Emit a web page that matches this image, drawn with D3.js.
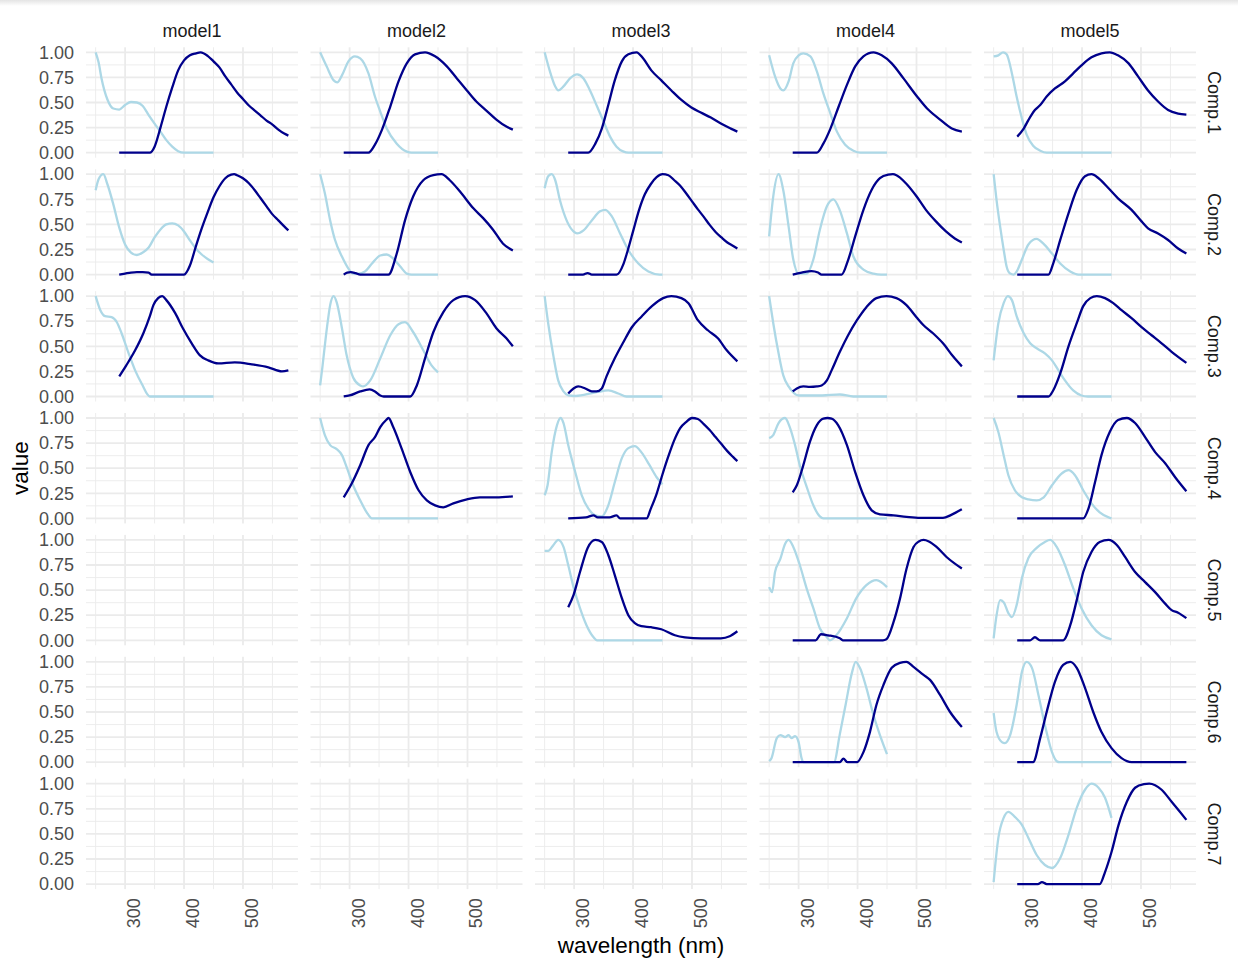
<!DOCTYPE html>
<html>
<head>
<meta charset="utf-8">
<script src="https://cdn.jsdelivr.net/npm/d3@7"></script>
<style>
  body { margin: 0; background: #ffffff; }
  text { font-family: "Liberation Sans", Arial, sans-serif; }
</style>
</head>
<body>
<svg id="chart" width="1238" height="961"></svg>
<script>
// ---- facet categories and tick labels ----
const models = ["model1", "model2", "model3", "model4", "model5"];
const comps = ["Comp.1", "Comp.2", "Comp.3", "Comp.4", "Comp.5", "Comp.6", "Comp.7"];
const xTicksMajor = [300, 400, 500];
const xTicksMinor = [250, 350, 450, 550];
const yTicksMajor = [0, 0.25, 0.5, 0.75, 1];
const yTicksMinor = [0.125, 0.375, 0.625, 0.875];
const wavelengthRange = [250, 577];

// ---- spectra: [wavelength (nm), scaled loading] ----
// model1
const m1c1Ex = [[250,1.0],[255,0.9],[260,0.74],[270,0.53],[280,0.44],[290,0.43],[300,0.475],[310,0.505],[320,0.50],[330,0.465],[340,0.375],[350,0.29],[360,0.21],[370,0.125],[380,0.06],[390,0.015],[400,0],[450,0]];
const m1c1Em = [[290,0],[342,0],[350,0.06],[360,0.25],[370,0.46],[380,0.65],[390,0.82],[400,0.92],[410,0.97],[420,0.99],[428,1.0],[440,0.965],[450,0.91],[460,0.85],[470,0.76],[480,0.68],[490,0.60],[500,0.535],[510,0.47],[520,0.42],[530,0.37],[540,0.32],[550,0.28],[560,0.23],[570,0.19],[577,0.17]];
const m1c2Ex = [[250,0.84],[255,0.95],[263,1.0],[270,0.90],[280,0.70],[290,0.47],[300,0.30],[310,0.22],[320,0.195],[330,0.22],[340,0.27],[350,0.37],[360,0.45],[370,0.50],[380,0.51],[390,0.49],[400,0.43],[410,0.34],[420,0.26],[430,0.20],[440,0.155],[450,0.12]];
const m1c2Em = [[290,0],[300,0.01],[310,0.02],[320,0.025],[330,0.025],[340,0.02],[345,0],[400,0],[410,0.09],[420,0.28],[430,0.46],[440,0.62],[450,0.77],[460,0.88],[470,0.96],[480,0.995],[485,1.0],[490,0.99],[500,0.96],[510,0.91],[520,0.84],[530,0.76],[540,0.68],[550,0.60],[560,0.54],[570,0.48],[577,0.44]];
const m1c3Ex = [[250,1.0],[258,0.86],[266,0.80],[277,0.79],[286,0.74],[294,0.63],[306,0.43],[317,0.26],[328,0.13],[342,0],[450,0]];
const m1c3Em = [[290,0.20],[302,0.31],[317,0.46],[331,0.63],[342,0.80],[348,0.91],[356,0.98],[363,1.0],[370,0.96],[385,0.83],[398,0.68],[413,0.53],[427,0.41],[441,0.36],[458,0.33],[486,0.34],[515,0.32],[543,0.29],[566,0.25],[577,0.26]];
// model2
const m2c1Ex = [[250,1.0],[261,0.86],[273,0.72],[279,0.70],[287,0.77],[298,0.91],[309,0.96],[318,0.94],[332,0.79],[343,0.56],[352,0.41],[363,0.24],[380,0.09],[397,0.01],[405,0],[450,0]];
const m2c1Em = [[290,0],[332,0],[343,0.08],[355,0.23],[369,0.46],[383,0.71],[397,0.89],[411,0.98],[428,1.0],[445,0.96],[465,0.86],[482,0.74],[499,0.62],[515,0.51],[532,0.42],[549,0.33],[566,0.26],[577,0.23]];
const m2c2Ex = [[250,1.0],[258,0.81],[267,0.54],[275,0.35],[287,0.18],[298,0.06],[306,0.01],[315,0.01],[326,0.03],[338,0.11],[352,0.19],[363,0.20],[374,0.16],[386,0.08],[397,0.01],[405,0],[450,0]];
const m2c2Em = [[290,0],[296,0.02],[302,0.025],[310,0.015],[318,0],[366,0],[380,0.21],[394,0.54],[408,0.78],[425,0.94],[442,0.99],[456,1.0],[470,0.94],[487,0.83],[510,0.66],[527,0.56],[543,0.45],[560,0.31],[577,0.24]];
const m2c3Ex = [[250,0.11],[254,0.30],[258,0.51],[263,0.75],[267,0.91],[273,1.0],[278,0.94],[287,0.68],[295,0.41],[306,0.19],[318,0.11],[323,0.10],[335,0.16],[352,0.38],[369,0.61],[383,0.72],[394,0.74],[408,0.64],[425,0.46],[439,0.31],[450,0.24]];
const m2c3Em = [[290,0],[300,0.01],[318,0.05],[334,0.07],[343,0.05],[352,0.01],[358,0],[403,0],[414,0.11],[428,0.38],[442,0.64],[459,0.84],[476,0.96],[496,1.0],[513,0.96],[532,0.83],[549,0.68],[566,0.58],[577,0.50]];
const m2c4Ex = [[250,1.0],[258,0.83],[267,0.73],[278,0.69],[287,0.63],[295,0.51],[306,0.33],[318,0.18],[329,0.06],[338,0],[450,0]];
const m2c4Em = [[290,0.21],[302,0.33],[318,0.53],[332,0.73],[343,0.81],[352,0.91],[362,0.98],[366,1.0],[374,0.91],[388,0.70],[403,0.46],[417,0.28],[431,0.18],[445,0.13],[459,0.11],[476,0.15],[499,0.19],[521,0.21],[549,0.21],[577,0.22]];
// model3
const m3c1Ex = [[250,1.0],[260,0.79],[268,0.66],[273,0.62],[282,0.66],[293,0.74],[305,0.78],[316,0.74],[327,0.62],[339,0.46],[350,0.31],[361,0.16],[372,0.06],[384,0.01],[392,0],[450,0]];
const m3c1Em = [[290,0],[324,0],[336,0.09],[347,0.24],[358,0.475],[369,0.72],[381,0.91],[392,0.98],[406,1.0],[417,0.94],[431,0.82],[448,0.72],[465,0.62],[482,0.525],[499,0.45],[515,0.40],[532,0.35],[549,0.29],[566,0.24],[577,0.21]];
const m3c2Ex = [[250,0.86],[256,0.98],[262,1.0],[268,0.94],[276,0.74],[288,0.53],[299,0.43],[305,0.41],[316,0.44],[330,0.54],[344,0.63],[353,0.645],[364,0.58],[378,0.41],[392,0.245],[409,0.11],[426,0.03],[445,0],[450,0]];
const m3c2Em = [[290,0],[315,0],[323,0.015],[330,0],[372,0],[384,0.11],[390,0.22],[400,0.43],[410,0.64],[420,0.80],[430,0.90],[440,0.97],[450,1.0],[460,0.99],[470,0.94],[480,0.885],[490,0.81],[500,0.73],[510,0.65],[520,0.575],[530,0.495],[540,0.425],[550,0.37],[560,0.32],[570,0.285],[577,0.26]];
const m3c3Ex = [[250,1.0],[256,0.73],[265,0.40],[273,0.16],[282,0.05],[290,0.01],[300,0.005],[320,0.02],[340,0.045],[358,0.06],[375,0.03],[389,0],[450,0]];
const m3c3Em = [[290,0.03],[299,0.08],[307,0.10],[319,0.08],[330,0.05],[338,0.05],[347,0.08],[355,0.20],[369,0.38],[384,0.545],[398,0.69],[415,0.80],[432,0.90],[451,0.98],[465,1.0],[482,0.98],[494,0.93],[510,0.76],[527,0.66],[544,0.58],[559,0.46],[577,0.35]];
const m3c4Ex = [[250,0.23],[255,0.33],[262,0.66],[271,0.93],[277,1.0],[282,0.95],[290,0.73],[302,0.46],[313,0.23],[324,0.10],[336,0.03],[347,0.02],[358,0.13],[369,0.36],[381,0.60],[392,0.70],[403,0.72],[414,0.66],[428,0.53],[440,0.41],[450,0.34]];
const m3c4Em = [[290,0],[320,0.01],[333,0.03],[340,0.01],[360,0.01],[372,0.03],[378,0],[423,0],[430,0.095],[440,0.245],[450,0.44],[460,0.62],[470,0.78],[480,0.90],[490,0.96],[500,1.0],[510,0.99],[520,0.94],[530,0.88],[540,0.81],[550,0.74],[560,0.67],[570,0.61],[577,0.57]];
const m3c5Ex = [[250,0.89],[256,0.89],[265,0.95],[273,1.0],[282,0.93],[290,0.75],[299,0.53],[310,0.32],[321,0.15],[333,0.03],[339,0],[450,0]];
const m3c5Em = [[290,0.33],[299,0.45],[310,0.68],[323,0.92],[336,1.0],[347,0.98],[358,0.85],[369,0.65],[381,0.42],[392,0.25],[403,0.17],[414,0.14],[431,0.13],[448,0.11],[471,0.05],[488,0.03],[516,0.02],[549,0.02],[564,0.04],[577,0.09]];
// model4
const m4c1Ex = [[250,0.97],[260,0.76],[269,0.64],[274,0.62],[283,0.71],[291,0.89],[300,0.97],[308,0.99],[320,0.96],[331,0.81],[342,0.59],[354,0.39],[365,0.21],[379,0.08],[393,0.02],[405,0],[450,0]];
const m4c1Em = [[290,0],[331,0],[342,0.09],[354,0.24],[368,0.46],[382,0.675],[396,0.86],[410,0.96],[427,1.0],[441,0.97],[458,0.89],[478,0.74],[501,0.56],[518,0.44],[540,0.33],[560,0.24],[577,0.21]];
const m4c2Ex = [[250,0.38],[257,0.78],[266,1.0],[274,0.84],[283,0.48],[291,0.15],[300,0.01],[314,0.01],[325,0.15],[336,0.445],[348,0.68],[359,0.75],[370,0.64],[382,0.41],[393,0.18],[410,0.05],[427,0.01],[440,0],[450,0]];
const m4c2Em = [[290,0],[305,0.02],[322,0.035],[333,0.02],[339,0],[373,0],[384,0.145],[396,0.38],[410,0.645],[424,0.845],[438,0.96],[452,0.995],[460,1.0],[466,0.99],[482,0.91],[500,0.78],[516,0.645],[533,0.53],[550,0.43],[565,0.36],[577,0.32]];
const m4c3Ex = [[250,1.0],[257,0.73],[266,0.43],[274,0.21],[283,0.10],[291,0.04],[300,0.01],[340,0.01],[370,0.02],[393,0],[450,0]];
const m4c3Em = [[290,0.05],[297,0.08],[308,0.10],[319,0.095],[331,0.10],[339,0.11],[348,0.16],[356,0.26],[370,0.445],[384,0.61],[399,0.76],[415,0.89],[432,0.98],[449,1.0],[466,0.98],[483,0.91],[500,0.79],[512,0.71],[528,0.63],[545,0.53],[562,0.40],[577,0.30]];
const m4c4Ex = [[250,0.80],[257,0.83],[266,0.95],[277,1.0],[285,0.91],[294,0.73],[302,0.53],[314,0.31],[325,0.13],[336,0.02],[342,0],[450,0]];
const m4c4Em = [[290,0.26],[297,0.33],[308,0.53],[319,0.76],[331,0.93],[342,0.995],[349,1.0],[356,0.995],[367,0.93],[382,0.73],[396,0.46],[410,0.23],[424,0.08],[438,0.04],[461,0.03],[483,0.015],[506,0.005],[545,0.005],[559,0.035],[577,0.09]];
const m4c5Ex = [[250,0.53],[255,0.48],[260,0.68],[269,0.81],[277,0.96],[283,1.0],[291,0.93],[302,0.75],[314,0.51],[325,0.32],[336,0.12],[348,0.03],[353,0],[364,0.05],[382,0.22],[398,0.42],[415,0.55],[432,0.60],[450,0.53]];
const m4c5Em = [[290,0],[329,0],[338,0.06],[350,0.05],[370,0.02],[375,0],[443,0],[449,0.01],[461,0.18],[472,0.415],[483,0.71],[495,0.93],[504,0.985],[512,1.0],[521,0.985],[534,0.93],[551,0.83],[577,0.715]];
const m4c6Ex = [[250,0.01],[254,0.04],[263,0.24],[269,0.27],[277,0.25],[283,0.27],[288,0.24],[294,0.26],[300,0.20],[305,0.04],[308,0],[360,0],[370,0.28],[380,0.58],[390,0.88],[397,1.0],[404,0.94],[415,0.74],[427,0.47],[438,0.27],[450,0.08]];
const m4c6Em = [[290,0],[370,0],[376,0.035],[383,0],[399,0],[410,0.10],[421,0.30],[432,0.57],[444,0.77],[458,0.94],[472,0.99],[483,1.0],[495,0.95],[512,0.87],[523,0.82],[540,0.67],[557,0.50],[577,0.35]];
// model5
const m5c1Ex = [[250,0.96],[258,0.97],[266,1.0],[272,0.98],[281,0.79],[289,0.56],[298,0.34],[306,0.18],[317,0.07],[329,0.02],[340,0],[450,0]];
const m5c1Em = [[290,0.16],[301,0.24],[309,0.325],[320,0.425],[329,0.475],[340,0.56],[354,0.64],[371,0.71],[385,0.79],[399,0.87],[416,0.95],[433,0.99],[447,1.0],[461,0.97],[479,0.89],[495,0.76],[512,0.62],[529,0.51],[546,0.425],[563,0.39],[577,0.38]];
const m5c2Ex = [[250,1.0],[255,0.74],[261,0.48],[267,0.25],[272,0.08],[278,0.01],[284,0],[289,0.03],[298,0.15],[309,0.30],[323,0.355],[334,0.31],[349,0.21],[363,0.11],[380,0.03],[394,0],[450,0]];
const m5c2Em = [[290,0],[343,0],[351,0.11],[363,0.345],[377,0.61],[391,0.845],[405,0.98],[416,1.0],[428,0.96],[445,0.86],[461,0.76],[484,0.645],[501,0.53],[512,0.46],[529,0.41],[546,0.345],[563,0.26],[577,0.21]];
const m5c3Ex = [[250,0.36],[258,0.73],[267,0.93],[274,1.0],[281,0.96],[289,0.80],[301,0.63],[312,0.53],[323,0.48],[337,0.43],[349,0.36],[360,0.26],[371,0.16],[385,0.06],[399,0.01],[410,0],[450,0]];
const m5c3Em = [[290,0],[343,0],[351,0.06],[363,0.23],[377,0.50],[391,0.73],[402,0.90],[414,0.98],[425,1.0],[439,0.98],[453,0.93],[467,0.86],[484,0.78],[501,0.69],[518,0.61],[535,0.53],[552,0.445],[577,0.335]];
const m5c4Ex = [[250,1.0],[258,0.86],[267,0.63],[275,0.43],[286,0.28],[298,0.21],[309,0.19],[323,0.18],[335,0.21],[349,0.33],[366,0.45],[377,0.48],[388,0.43],[402,0.28],[416,0.15],[430,0.06],[445,0.01],[450,0]];
const m5c4Em = [[290,0],[402,0],[411,0.10],[422,0.36],[433,0.63],[447,0.86],[461,0.98],[476,1.0],[490,0.95],[507,0.81],[524,0.66],[541,0.55],[558,0.41],[577,0.27]];
const m5c5Ex = [[250,0.02],[255,0.25],[261,0.40],[267,0.38],[275,0.27],[281,0.23],[289,0.35],[298,0.62],[309,0.82],[323,0.92],[337,0.98],[346,1.0],[357,0.93],[371,0.75],[385,0.52],[399,0.32],[416,0.15],[433,0.05],[450,0.01]];
const m5c5Em = [[290,0],[312,0],[320,0.03],[329,0],[368,0],[380,0.15],[391,0.40],[402,0.68],[416,0.88],[430,0.98],[445,1.0],[459,0.95],[473,0.83],[490,0.68],[507,0.58],[524,0.48],[541,0.365],[552,0.30],[563,0.275],[577,0.22]];
const m5c6Ex = [[250,0.49],[255,0.30],[264,0.20],[269,0.19],[278,0.27],[289,0.57],[298,0.90],[306,1.0],[315,0.94],[326,0.67],[337,0.37],[349,0.10],[357,0.01],[362,0],[450,0]];
const m5c6Em = [[290,0],[317,0],[329,0.24],[340,0.50],[354,0.80],[368,0.97],[380,1.0],[391,0.94],[405,0.74],[419,0.50],[433,0.30],[450,0.14],[467,0.04],[484,0],[577,0]];
const m5c7Ex = [[250,0.02],[258,0.46],[267,0.66],[275,0.72],[286,0.67],[298,0.59],[309,0.46],[323,0.29],[337,0.19],[349,0.16],[363,0.26],[377,0.49],[391,0.76],[405,0.94],[416,1.0],[428,0.96],[439,0.86],[450,0.66]];
const m5c7Em = [[290,0],[325,0],[332,0.02],[340,0],[430,0],[439,0.12],[450,0.32],[462,0.59],[476,0.82],[490,0.96],[505,0.995],[514,1.0],[524,0.985],[535,0.94],[552,0.82],[566,0.72],[577,0.64]];

// facet table: which model / component each pair of spectra belongs to
const facets = [
  ["model1","Comp.1",m1c1Ex,m1c1Em],["model1","Comp.2",m1c2Ex,m1c2Em],["model1","Comp.3",m1c3Ex,m1c3Em],
  ["model2","Comp.1",m2c1Ex,m2c1Em],["model2","Comp.2",m2c2Ex,m2c2Em],["model2","Comp.3",m2c3Ex,m2c3Em],["model2","Comp.4",m2c4Ex,m2c4Em],
  ["model3","Comp.1",m3c1Ex,m3c1Em],["model3","Comp.2",m3c2Ex,m3c2Em],["model3","Comp.3",m3c3Ex,m3c3Em],["model3","Comp.4",m3c4Ex,m3c4Em],["model3","Comp.5",m3c5Ex,m3c5Em],
  ["model4","Comp.1",m4c1Ex,m4c1Em],["model4","Comp.2",m4c2Ex,m4c2Em],["model4","Comp.3",m4c3Ex,m4c3Em],["model4","Comp.4",m4c4Ex,m4c4Em],["model4","Comp.5",m4c5Ex,m4c5Em],["model4","Comp.6",m4c6Ex,m4c6Em],
  ["model5","Comp.1",m5c1Ex,m5c1Em],["model5","Comp.2",m5c2Ex,m5c2Em],["model5","Comp.3",m5c3Ex,m5c3Em],["model5","Comp.4",m5c4Ex,m5c4Em],["model5","Comp.5",m5c5Ex,m5c5Em],["model5","Comp.6",m5c6Ex,m5c6Em],["model5","Comp.7",m5c7Ex,m5c7Em]
];

// ---- layout ----
const panelLeft = 86, colStep = 224.5, panelW = 212;
const panelTop = 47.3, rowStep = 121.9, panelH = 110.4;
const gridColor = "#ebebeb";
const exColor = "#ADD8E6", emColor = "#00008B";

const svg = d3.select("#chart");

// faint shade along the top edge
const defs = svg.append("defs");
const grad = defs.append("linearGradient").attr("id", "topShade").attr("x1", 0).attr("y1", 0).attr("x2", 0).attr("y2", 1);
grad.append("stop").attr("offset", "0%").attr("stop-color", "#e4e4e4");
grad.append("stop").attr("offset", "100%").attr("stop-color", "#ffffff");
svg.append("rect").attr("x", 0).attr("y", 0).attr("width", 1238).attr("height", 6).attr("fill", "url(#topShade)");

const span = wavelengthRange[1] - wavelengthRange[0];
const x = d3.scaleLinear()
  .domain([wavelengthRange[0] - 0.05 * span, wavelengthRange[1] + 0.05 * span])
  .range([0, panelW]);
const y = d3.scaleLinear().domain([-0.05, 1.05]).range([panelH, 0]);

const line = d3.line()
  .x(d => x(d[0]))
  .y(d => y(d[1]))
  .curve(d3.curveMonotoneX);

models.forEach((m, ci) => {
  comps.forEach((c, ri) => {
    const g = svg.append("g")
      .attr("transform", `translate(${panelLeft + ci * colStep},${panelTop + ri * rowStep})`);

    // minor grid
    g.selectAll(".gx-minor").data(xTicksMinor).join("line")
      .attr("x1", d => x(d)).attr("x2", d => x(d)).attr("y1", 0).attr("y2", panelH)
      .attr("stroke", gridColor).attr("stroke-width", 0.9);
    g.selectAll(".gy-minor").data(yTicksMinor).join("line")
      .attr("y1", d => y(d)).attr("y2", d => y(d)).attr("x1", 0).attr("x2", panelW)
      .attr("stroke", gridColor).attr("stroke-width", 0.9);
    // major grid
    g.selectAll(".gx-major").data(xTicksMajor).join("line")
      .attr("x1", d => x(d)).attr("x2", d => x(d)).attr("y1", 0).attr("y2", panelH)
      .attr("stroke", gridColor).attr("stroke-width", 1.8);
    g.selectAll(".gy-major").data(yTicksMajor).join("line")
      .attr("y1", d => y(d)).attr("y2", d => y(d)).attr("x1", 0).attr("x2", panelW)
      .attr("stroke", gridColor).attr("stroke-width", 1.8);

    const f = facets.find(r => r[0] === m && r[1] === c);
    if (f) {
      g.append("path").datum(f[2]).attr("d", line)
        .attr("fill", "none").attr("stroke", exColor).attr("stroke-width", 2.3)
        .attr("stroke-linejoin", "round").attr("stroke-linecap", "butt");
      g.append("path").datum(f[3]).attr("d", line)
        .attr("fill", "none").attr("stroke", emColor).attr("stroke-width", 2.3)
        .attr("stroke-linejoin", "round").attr("stroke-linecap", "butt");
    }

    // y axis labels on the first column
    if (ci === 0) {
      const ay = g.append("g").call(
        d3.axisLeft(y).tickValues(yTicksMajor).tickFormat(d3.format(".2f")).tickSize(0).tickPadding(12)
      );
      ay.select(".domain").remove();
      ay.selectAll("text").attr("fill", "#4d4d4d").style("font-size", "18px")
        .style("font-family", "'Liberation Sans', Arial, sans-serif");
    }
    // x axis labels on the last row
    if (ri === comps.length - 1) {
      const ax = g.append("g").attr("transform", `translate(0,${panelH})`).call(
        d3.axisBottom(x).tickValues(xTicksMajor).tickFormat(d3.format("d")).tickSize(0)
      );
      ax.select(".domain").remove();
      ax.selectAll("text")
        .attr("transform", "rotate(-90)")
        .attr("x", -9).attr("y", 14.5).attr("dy", 0)
        .attr("text-anchor", "end")
        .attr("fill", "#4d4d4d").style("font-size", "18px")
        .style("font-family", "'Liberation Sans', Arial, sans-serif");
    }
  });
});

// strip labels: models on top
svg.selectAll(".strip-top").data(models).join("text")
  .attr("x", (d, i) => panelLeft + i * colStep + panelW / 2)
  .attr("y", 31)
  .attr("text-anchor", "middle").attr("dominant-baseline", "central")
  .attr("fill", "#1a1a1a").style("font-size", "18px")
  .text(d => d);

// strip labels: components on the right
const stripX = panelLeft + 4 * colStep + panelW + 18;
svg.selectAll(".strip-right").data(comps).join("text")
  .attr("transform", (d, i) => `translate(${stripX},${panelTop + i * rowStep + panelH / 2}) rotate(90)`)
  .attr("text-anchor", "middle").attr("dominant-baseline", "central")
  .attr("fill", "#1a1a1a").style("font-size", "18px")
  .text(d => d);

// axis titles
const plotBottom = panelTop + 6 * rowStep + panelH;
svg.append("text")
  .attr("x", panelLeft + (4 * colStep + panelW) / 2).attr("y", 945)
  .attr("text-anchor", "middle").attr("dominant-baseline", "central")
  .attr("fill", "#000").style("font-size", "22.5px")
  .text("wavelength (nm)");
svg.append("text")
  .attr("transform", `translate(20,${(panelTop + plotBottom) / 2}) rotate(-90)`)
  .attr("text-anchor", "middle").attr("dominant-baseline", "central")
  .attr("fill", "#000").style("font-size", "22.5px")
  .text("value");
</script>
</body>
</html>
